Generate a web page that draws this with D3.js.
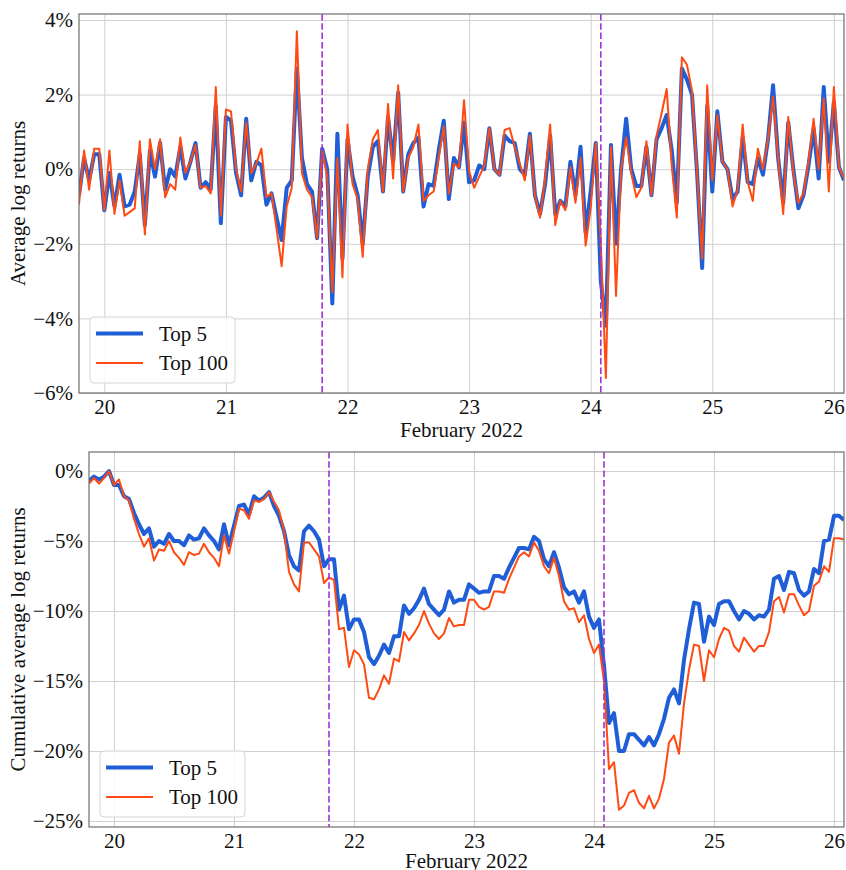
<!DOCTYPE html>
<html>
<head>
<meta charset="utf-8">
<script src="https://cdn.jsdelivr.net/npm/d3@7"></script>
<style>
  body { margin: 0; background: #fff; }
  svg text { font-family: "Liberation Serif", "Times New Roman", serif; fill: #111; }
</style>
</head>
<body>
<div id="chart"></div>
<script>
// hourly series, Feb 19 19:00 -> Feb 26 02:00 (152 points), values in %
const seriesNames = ["Top 5", "Top 100"];
const dayTicks = ["20", "21", "22", "23", "24", "25", "26"];
const retTicks = [-6, -4, -2, 0, 2, 4];
const cumTicks = [-25, -20, -15, -10, -5, 0];
const eventTimes = ["2022-02-21T19:00Z", "2022-02-24T02:00Z"];

const top5Ret = [
  -0.7, 0.3, -0.3, 0.4, 0.4, -1.1, -0.1, -1.0, -0.15, -1.0,
  -0.95, -0.6, 0.4, -1.5, 0.5, -0.2, 0.7, -0.55, 0.0, -0.2,
  0.6, -0.25, 0.2, 0.7, -0.5, -0.35, -0.55, 1.7, -1.45, 1.4,
  1.3, -0.1, -0.7, 1.35, -0.3, 0.2, 0.1, -0.95, -0.65, -1.3,
  -1.9, -0.5, -0.3, 2.7, 0.3, -0.4, -0.6, -1.85, 0.55, 0.0,
  -3.6, 0.95, -2.4, 0.8, -0.2, -0.7, -2.0, -0.2, 0.6, 0.75,
  -0.6, 1.4, 0.2, 2.05, -0.6, 0.4, 0.7, 0.85, -1.0, -0.4,
  -0.45, 0.5, 1.3, -0.8, 0.3, 0.05, 1.25, -0.35, -0.3, 0.1,
  0.0, 1.1, 0.0, -0.15, 0.9, 0.75, 0.7, 0.0, -0.15, 0.95,
  -0.7, -1.2, -0.4, 0.9, -1.2, -0.85, -1.0, 0.2, -0.7, 0.6,
  -1.7, -0.6, 0.7, -3.0, -4.2, 0.65, -2.0, 0.0, 1.35, 0.0,
  -0.45, -0.45, 0.6, -0.7, 0.8, 1.1, 1.45, 0.5, -0.9, 2.7,
  2.4, 2.0, -0.1, -2.65, 1.7, -0.6, 1.55, 0.2, 0.0, -0.8,
  -0.6, 0.85, -0.35, -0.4, 0.3, -0.15, 0.8, 2.25, 0.3, -0.9,
  1.25, 0.0, -1.05, -0.7, 0.1, 1.1, -0.25, 2.2, 0.2, 1.8,
  0.05, -0.3
];
const top100Ret = [
  -0.95, 0.5, -0.55, 0.55, 0.55, -1.1, 0.5, -1.2, -0.3, -1.25,
  -1.15, -1.05, 0.75, -1.75, 0.8, 0.0, 0.8, -0.75, -0.4, -0.55,
  0.85, -0.1, 0.2, 0.65, -0.5, -0.45, -0.65, 2.2, -1.25, 1.6,
  1.55, 0.0, -0.6, 1.25, -0.1, 0.15, 0.55, -0.75, -0.65, -1.6,
  -2.6, -1.0, -0.5, 3.7, -0.1, -0.55, -0.75, -1.85, 0.5, -0.2,
  -3.3, 0.3, -2.9, 1.2, -0.4, -0.8, -2.35, 0.0, 0.8, 1.05,
  -0.6, 1.75, -0.25, 2.25, -0.6, 0.3, 0.6, 1.2, -0.85, -0.7,
  -0.6, 0.3, 1.15, -0.65, 0.15, 0.05, 1.85, -0.05, -0.5, -0.2,
  0.1, 1.1, 0.0, -0.15, 1.05, 1.1, 0.6, 0.15, -0.3, 0.9,
  -0.7, -1.3, -0.25, 1.2, -1.5, -0.85, -1.1, 0.05, -0.9, 0.3,
  -2.05, -1.05, 0.7, -2.0, -5.6, 0.6, -3.4, 0.0, 0.85, -0.1,
  -0.75, -0.5, 0.75, -0.7, 0.9, 1.5, 2.15, 0.1, -1.3, 3.0,
  2.8, 2.1, -0.1, -2.4, 2.25, -0.3, 1.45, 0.2, 0.0, -1.0,
  -0.55, 1.2, -0.35, -0.85, 0.55, 0.0, 0.8, 1.95, 0.3, -1.2,
  1.4, -0.1, -0.9, -0.65, 0.2, 1.35, 0.0, 1.9, -0.6, 2.2,
  0.05, -0.25
];
const top5Cum = [
  -0.7, -0.4, -0.6, -0.4, 0.0, -1.0, -1.0, -1.8, -2.0, -3.0,
  -3.8, -4.5, -4.1, -5.4, -5.0, -5.2, -4.5, -5.0, -5.0, -5.3,
  -4.6, -4.9, -4.8, -4.1, -4.6, -5.0, -5.6, -3.8, -5.3, -3.9,
  -2.5, -2.4, -3.1, -1.8, -2.1, -1.9, -1.5, -2.5, -3.2, -4.3,
  -6.0, -6.8, -7.1, -4.3, -3.9, -4.3, -4.9, -6.8, -6.3, -6.3,
  -9.9, -8.9, -11.3, -10.6, -10.6, -11.5, -13.3, -13.8, -13.2, -12.4,
  -13.0, -11.8, -11.8, -9.6, -10.2, -9.8, -9.2, -8.4, -9.5, -9.9,
  -10.3, -9.9, -8.6, -9.4, -9.2, -9.2, -8.1, -8.4, -8.7, -8.6,
  -8.6, -7.5, -7.5, -7.7, -6.9, -6.2, -5.5, -5.5, -5.6, -4.7,
  -5.0, -6.3, -6.8, -5.8, -6.9, -8.3, -8.8, -8.6, -9.4, -8.6,
  -10.4, -11.2, -10.6, -13.9, -18.0, -17.3, -20.0, -20.0, -18.8, -18.8,
  -19.2, -19.6, -19.0, -19.6, -18.8, -17.7, -16.2, -15.6, -16.6, -13.5,
  -11.3, -9.4, -9.5, -12.2, -10.4, -11.0, -9.5, -9.3, -9.3, -10.0,
  -10.6, -10.0, -10.2, -10.6, -10.3, -10.4, -9.9, -7.7, -7.5, -8.5,
  -7.2, -7.3, -8.5, -8.9, -8.6, -7.0, -7.3, -5.0, -4.9, -3.2,
  -3.2, -3.5
];
const top100Cum = [
  -0.9, -0.5, -0.9, -0.5, 0.0, -1.0, -0.6, -1.8, -2.1, -3.4,
  -4.5, -5.4, -4.8, -6.4, -5.6, -5.7, -5.0, -5.8, -6.2, -6.7,
  -5.8, -6.0, -5.9, -5.2, -5.8, -6.2, -6.8, -4.6, -5.9, -4.3,
  -2.7, -2.8, -3.4, -2.1, -2.2, -2.0, -1.5, -2.2, -2.8, -4.3,
  -7.2, -8.1, -8.6, -5.1, -5.1, -5.6, -6.1, -8.0, -7.6, -7.8,
  -11.3, -11.2, -14.0, -12.8, -13.1, -13.8, -16.2, -16.3, -15.6, -14.6,
  -15.2, -13.4, -13.6, -11.5, -12.1, -11.6, -11.0, -10.0, -10.9, -11.6,
  -12.0, -11.6, -10.5, -11.1, -11.0, -11.0, -9.2, -9.2, -9.7, -9.9,
  -9.7, -8.6, -8.6, -8.7, -7.7, -6.9, -6.1, -5.8, -6.1, -5.1,
  -5.7, -6.8, -7.3, -6.2, -7.5, -9.3, -9.9, -9.8, -10.8, -10.3,
  -12.0, -13.0, -12.4, -15.0, -21.3, -20.8, -24.2, -23.9, -23.0, -22.8,
  -23.7, -24.1, -23.2, -24.1, -23.4, -22.0, -19.4, -18.9, -20.2, -16.6,
  -14.2, -12.4, -12.5, -15.0, -12.8, -13.3, -12.0, -11.2, -11.4, -12.5,
  -12.9, -11.9, -12.4, -12.9, -12.5, -12.5, -11.5, -9.3, -9.0, -10.1,
  -8.8, -8.8, -9.6, -10.3, -10.0, -8.2, -7.9, -6.8, -7.2, -4.8,
  -4.8, -4.9
];

const startTime = Date.UTC(2022, 1, 19, 19);
const times = top5Ret.map((d, i) => new Date(startTime + i * 3600 * 1000));

const width = 846;
const height = 870;
const colors = ["#1f5ed6", "#ff4a12"];
const widths = [4, 2];

const svg = d3.select("#chart")
    .append("svg")
    .attr("width", width)
    .attr("height", height);

function drawPanel(p) {
    const x = d3.scaleUtc()
        .domain([times[0], times[times.length - 1]])
        .range([p.left, p.right]);
    const y = d3.scaleLinear()
        .domain(p.yDomain)
        .range([p.bottom, p.top]);

    const g = svg.append("g");
    const clipId = "clip" + p.id;
    svg.append("clipPath").attr("id", clipId)
        .append("rect")
        .attr("x", p.left).attr("y", p.top)
        .attr("width", p.right - p.left).attr("height", p.bottom - p.top);

    // y axis with grid lines
    const yAxis = g.append("g")
        .attr("transform", `translate(${p.left},0)`)
        .call(d3.axisLeft(y)
            .tickValues(p.yTicks)
            .tickSize(-(p.right - p.left))
            .tickPadding(6)
            .tickFormat(d => d3.format("d")(d) + "%"));
    yAxis.select(".domain").remove();
    yAxis.selectAll(".tick line").attr("stroke", "#d0d0d0").attr("stroke-width", 1);
    yAxis.selectAll(".tick text").style("font-size", "21px");

    // x axis with grid lines
    const dayValues = dayTicks.map(d => new Date(Date.UTC(2022, 1, +d)));
    const xAxis = g.append("g")
        .attr("transform", `translate(0,${p.bottom})`)
        .call(d3.axisBottom(x)
            .tickValues(dayValues)
            .tickSize(-(p.bottom - p.top))
            .tickPadding(6)
            .tickFormat(d3.utcFormat("%-d")));
    xAxis.select(".domain").remove();
    xAxis.selectAll(".tick line").attr("stroke", "#d0d0d0").attr("stroke-width", 1);
    xAxis.selectAll(".tick text").style("font-size", "21px");

    // lines
    const line = d3.line()
        .x((d, i) => x(times[i]))
        .y(d => y(d));
    const lines = g.append("g").attr("clip-path", `url(#${clipId})`);
    p.series.forEach((s, k) => {
        lines.append("path")
            .datum(s)
            .attr("fill", "none")
            .attr("stroke", colors[k])
            .attr("stroke-width", widths[k])
            .attr("stroke-linejoin", "round")
            .attr("d", line);
    });

    // event markers
    lines.selectAll("line.event")
        .data(eventTimes.map(t => new Date(t)))
        .enter().append("line")
        .attr("class", "event")
        .attr("x1", d => x(d)).attr("x2", d => x(d))
        .attr("y1", p.top).attr("y2", p.bottom)
        .attr("stroke", "#a033d4")
        .attr("stroke-width", 1.6)
        .attr("stroke-dasharray", "6.5,2.8");

    // frame
    g.append("rect")
        .attr("x", p.left).attr("y", p.top)
        .attr("width", p.right - p.left).attr("height", p.bottom - p.top)
        .attr("fill", "none")
        .attr("stroke", "#6e6e6e")
        .attr("stroke-width", 1.2);

    // axis labels
    g.append("text")
        .attr("x", (p.left + p.right) / 2)
        .attr("y", p.xLabelY)
        .attr("text-anchor", "middle")
        .style("font-size", "21px")
        .text("February 2022");
    g.append("text")
        .attr("transform", `translate(${p.yLabelX},${(p.top + p.bottom) / 2}) rotate(-90)`)
        .attr("text-anchor", "middle")
        .style("font-size", "21px")
        .text(p.yLabel);

    // legend
    const lx = p.left + 11, ly = p.bottom - 76;
    const legend = g.append("g").attr("transform", `translate(${lx},${ly})`);
    legend.append("rect")
        .attr("width", 145).attr("height", 66)
        .attr("rx", 4)
        .attr("fill", "#fff").attr("fill-opacity", 0.85)
        .attr("stroke", "#d6d6d6");
    seriesNames.forEach((name, k) => {
        const yy = 16.5 + k * 29.5;
        legend.append("line")
            .attr("x1", 6).attr("x2", 53)
            .attr("y1", yy).attr("y2", yy)
            .attr("stroke", colors[k])
            .attr("stroke-width", widths[k]);
        legend.append("text")
            .attr("x", 69).attr("y", yy + 7)
            .style("font-size", "21px")
            .text(name);
    });
}

drawPanel({
    id: "ret", left: 79, right: 844, top: 14, bottom: 393,
    yDomain: [-6, 4.16], yTicks: retTicks,
    series: [top5Ret, top100Ret],
    yLabel: "Average log returns", yLabelX: 25, xLabelY: 437
});

drawPanel({
    id: "cum", left: 89, right: 844, top: 452, bottom: 827,
    yDomain: [-25.43, 1.36], yTicks: cumTicks,
    series: [top5Cum, top100Cum],
    yLabel: "Cumulative average log returns", yLabelX: 25, xLabelY: 868
});
</script>
</body>
</html>
